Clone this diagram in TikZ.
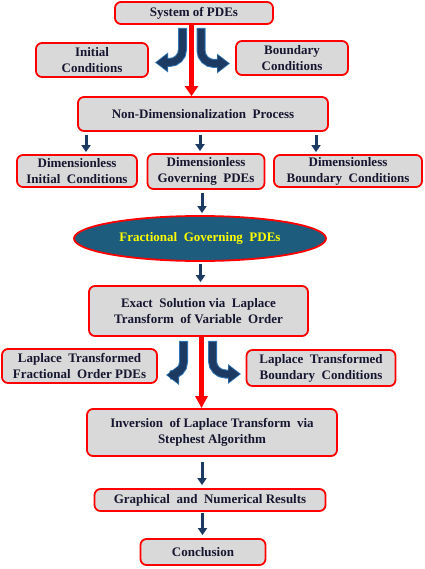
\documentclass[tikz,border=0pt]{standalone}
\usepackage{fontspec}
\setmainfont{Liberation Serif}
\usetikzlibrary{arrows.meta,shapes.geometric}
\definecolor{boxgray}{RGB}{217,217,217}
\definecolor{boxred}{RGB}{255,0,0}
\definecolor{txtnavy}{RGB}{22,22,48}
\definecolor{arrblue}{RGB}{28,58,98}
\definecolor{arrlight}{RGB}{50,120,185}
\definecolor{ellfill}{RGB}{29,92,125}
\definecolor{ellyellow}{RGB}{255,255,0}
\begin{document}
\begin{tikzpicture}[x=1pt,y=-1pt,
  box/.style={draw=boxred, line width=1.8pt, fill=boxgray, rounded corners=6pt,
    align=center, font=\fontsize{13}{16}\selectfont\bfseries, text=txtnavy, inner sep=0pt},
  ellbox/.style={ellipse, draw=boxred, line width=1.8pt, fill=ellfill, inner sep=0pt,
    font=\fontsize{13}{16}\selectfont\bfseries, text=ellyellow},
  redarrow/.style={draw=boxred, line width=4.5pt, -{Triangle[width=13pt,length=10pt]}},
  curvout/.style={draw=arrlight, line width=9pt, rounded corners=13pt,
    -{Triangle[width=19pt,length=13pt]}},
  curvarrow/.style={draw=arrblue, line width=7pt, rounded corners=13pt,
    -{Triangle[width=16pt,length=11pt]}, shorten >=1.3pt},
  smallarr/.style={draw=arrblue, line width=3pt, -{Triangle[width=9pt,length=7pt]}},
  redline/.style={draw=boxred, line width=4.5pt, -{Triangle[width=12pt,length=12pt]}}
]
\useasboundingbox (0,0) rectangle (424,569);
\fill[white] (0,0) rectangle (424,569);

\node[box, minimum width=158pt, minimum height=22pt] (sys) at (194,13) {System of PDEs};
\node[box, minimum width=112pt, minimum height=34pt] (ic) at (92,60) {Initial\\Conditions};
\node[box, minimum width=112pt, minimum height=34pt] (bc) at (292,58) {Boundary\\Conditions};
\node[box, minimum width=250pt, minimum height=34pt] (nd) at (203,114) {Non-Dimensionalization\ \ Process};
\node[box, minimum width=120pt, minimum height=32pt] (dic) at (77,171) {Dimensionless\\Initial\ \ Conditions};
\node[box, minimum width=117pt, minimum height=35pt] (dgp) at (206,171.5) {Dimensionless\\Governing\ \ PDEs};
\node[box, minimum width=148pt, minimum height=32pt] (dbc) at (348,171) {Dimensionless\\Boundary\ \ Conditions};
\node[ellbox, minimum width=252pt, minimum height=45pt] (ell) at (200,238.5) {Fractional\ \ Governing\ \ PDEs};
\node[box, minimum width=219pt, minimum height=50pt] (ex) at (198.5,311) {Exact\ \ Solution via\ \ Laplace\\Transform\ \ of Variable\ \ Order};
\node[box, minimum width=155pt, minimum height=34pt] (ltf) at (79.5,366) {Laplace\ \ Transformed\\Fractional\ \ Order PDEs};
\node[box, minimum width=149pt, minimum height=36pt] (ltb) at (321,368) {Laplace\ \ Transformed\\Boundary\ \ Conditions};
\node[box, minimum width=250pt, minimum height=47pt] (inv) at (212,432.5) {Inversion\ \ of Laplace Transform\ \ via\\Stephest Algorithm};
\node[box, minimum width=231pt, minimum height=22pt] (gnr) at (210,500) {Graphical\ \ and\ \ Numerical Results};
\node[box, minimum width=125pt, minimum height=26pt] (conc) at (203,552) {Conclusion};

% red main arrows
\coordinate (r1) at (191.5,0);
\draw[redarrow] (sys.south -| r1) -- (nd.north -| r1);
\coordinate (r2) at (201.5,0);
\draw[redline] (ex.south -| r2) -- (inv.north -| r2);

% curved blue arrows
\coordinate (c1) at (182.5,0); \coordinate (t1) at (155,62.5);
\coordinate (c2) at (201,0);   \coordinate (t2) at (230,63.5);
\coordinate (c3) at (183.5,0); \coordinate (t3) at (166,375);
\coordinate (c4) at (212.5,0); \coordinate (t4) at (241,374);
\draw[curvout, shorten <=3pt] (sys.south -| c1) |- (t1);
\draw[curvarrow, shorten <=4pt] (sys.south -| c1) |- (t1);
\draw[curvout, shorten <=3pt] (sys.south -| c2) |- (t2);
\draw[curvarrow, shorten <=4pt] (sys.south -| c2) |- (t2);
\draw[curvout, shorten <=4pt] (ex.south -| c3) |- (t3);
\draw[curvarrow, shorten <=5pt] (ex.south -| c3) |- (t3);
\draw[curvout, shorten <=4pt] (ex.south -| c4) |- (t4);
\draw[curvarrow, shorten <=5pt] (ex.south -| c4) |- (t4);

% small arrows
\coordinate (s1) at (86,0);
\coordinate (s2) at (200,0);
\coordinate (s3) at (316,0);
\draw[smallarr, shorten <=3pt, shorten >=2pt] (nd.south -| s1) -- (dic.north -| s1);
\draw[smallarr, shorten <=3pt, shorten >=2pt] (nd.south -| s2) -- (dgp.north -| s2);
\draw[smallarr, shorten <=3pt, shorten >=2pt] (nd.south -| s3) -- (dbc.north -| s3);
\coordinate (s4) at (202,0);
\draw[smallarr, shorten <=3pt, shorten >=2pt] (dgp.south -| s4) -- (ell.north -| s4);
\coordinate (s5) at (200.5,0);
\draw[smallarr, shorten <=2pt, shorten >=3pt] (ell.south -| s5) -- (ex.north -| s5);
\coordinate (s6) at (202,0);
\draw[smallarr, shorten <=5pt, shorten >=3pt] (inv.south -| s6) -- (gnr.north -| s6);
\coordinate (s7) at (202.5,0);
\draw[smallarr, shorten <=1pt, shorten >=3pt] (gnr.south -| s7) -- (conc.north -| s7);
\end{tikzpicture}
\end{document}
